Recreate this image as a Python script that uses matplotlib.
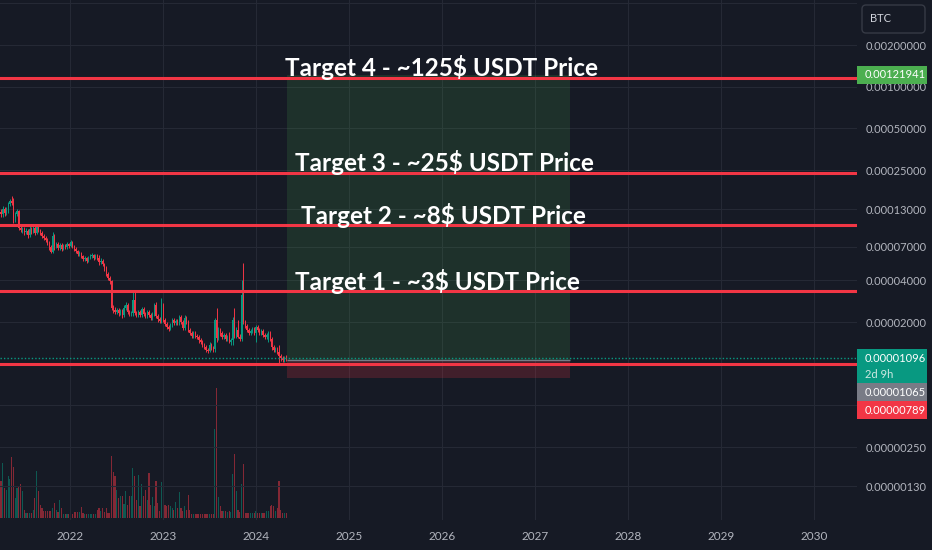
import numpy as np
import pandas as pd
import matplotlib
matplotlib.use('Agg')
import matplotlib.pyplot as plt
import matplotlib.dates as mdates
from matplotlib.patches import Rectangle, FancyBboxPatch
from matplotlib.transforms import IdentityTransform
from matplotlib.ticker import NullLocator

# weekly candles, prices in satoshi (1e-8 BTC)
first_open = 12450
closes = [12050, 13090, 12250, 12870, 14220, 14950, 14460, 11270, 12050, 12660,
          9540, 9230, 9385, 8925, 9075, 8500, 9385, 8925, 9540, 8780,
          9700, 9230, 8780, 8360, 8085, 7820, 7440, 6955, 6400, 8360,
          7075, 7315, 6840, 7190, 6730, 7075, 6955, 7315, 7075, 7565,
          7075, 6730, 6510, 6190, 6295, 5990, 5700, 5795, 5515, 5795,
          5990, 6090, 5795, 5990, 5795, 5425, 5515, 5245, 4910, 4445,
          4155, 3955, 2520, 2440, 2360, 2440, 2320, 2400, 2250, 2520,
          2650, 2360, 2285, 2320, 2880, 2320, 2250, 2360, 2250, 2480,
          2285, 2210, 2360, 2250, 2140, 2285, 2650, 2210, 2105, 2035,
          2650, 2070, 1935, 1840, 1780, 1900, 2070, 1970, 2035, 1970,
          2175, 2000, 1810, 2140, 2000, 1750, 1665, 1585, 1665, 1585,
          1560, 1480, 1435, 1360, 1320, 1255, 1235, 1360, 1295, 1275,
          2070, 1535, 1750, 1665, 1560, 1610, 1505, 1560, 1435, 1480,
          2070, 1585, 1750, 1560, 1505, 3130, 2000, 1870, 1750, 1665,
          1720, 1780, 1665, 1840, 1750, 1665, 1720, 1610, 1560, 1610,
          1665, 1505, 1320, 1255, 1275, 1215, 1135, 1100, 1063, 1100,
          1096]
highs = [13090, 13760, 13530, 13530, 14700, 15450, 16240, 15700, 12450, 13090,
         12870, 9865, 9700, 9700, 9540, 9385, 9865, 9700, 9865, 9865,
         10030, 10030, 9385, 9075, 8635, 8360, 8085, 7690, 7190, 8925,
         8635, 7565, 7565, 7440, 7440, 7315, 7315, 7565, 7440, 7820,
         7690, 7190, 6955, 6620, 6510, 6400, 6090, 5990, 5890, 5990,
         6190, 6295, 6190, 6190, 6190, 6090, 5795, 5700, 5335, 5075,
         4595, 4300, 4020, 2650, 2565, 2520, 2520, 2480, 2480, 2650,
         2780, 2740, 2440, 2400, 3400, 3290, 2400, 2440, 2440, 2565,
         2565, 2360, 2440, 2440, 2320, 2360, 2740, 2780, 2285, 2175,
         2970, 2740, 2140, 2000, 1900, 1970, 2140, 2140, 2105, 2105,
         2250, 2250, 2070, 2250, 2210, 2070, 1810, 1720, 1720, 1720,
         1640, 1610, 1535, 1480, 1410, 1360, 1295, 1435, 1410, 1340,
         2140, 2520, 1840, 1810, 1720, 1665, 1665, 1610, 1695, 1535,
         2175, 2520, 1840, 2070, 1640, 4020, 5335, 2070, 1935, 1810,
         1780, 1840, 1840, 1900, 1900, 1810, 1780, 1780, 1665, 1665,
         1720, 1720, 1560, 1360, 1320, 1320, 1360, 1175, 1135, 1135,
         1155]
lows = [11460, 11460, 11650, 11850, 12250, 13760, 13990, 10370, 10540, 11650,
        9230, 8925, 8780, 8500, 8635, 8085, 8220, 8635, 8780, 8500,
        8635, 8925, 8500, 8085, 7820, 7565, 7190, 6620, 6295, 6295,
        6620, 6840, 6620, 6620, 6510, 6620, 6730, 6730, 6840, 6955,
        6840, 6510, 6295, 5990, 5990, 5795, 5515, 5515, 5335, 5425,
        5700, 5795, 5610, 5700, 5610, 5160, 5245, 5075, 4670, 4300,
        4020, 3760, 2440, 2320, 2285, 2285, 2210, 2250, 2140, 2175,
        2440, 2285, 2210, 2210, 2210, 2250, 2175, 2175, 2175, 2175,
        2210, 2140, 2140, 2175, 2070, 2070, 2210, 2140, 2000, 1970,
        1970, 2000, 1870, 1780, 1720, 1750, 1840, 1900, 1900, 1900,
        1900, 1935, 1750, 1750, 1935, 1695, 1610, 1535, 1535, 1535,
        1505, 1410, 1390, 1320, 1275, 1215, 1195, 1215, 1255, 1215,
        1215, 1435, 1480, 1585, 1505, 1505, 1460, 1460, 1410, 1360,
        1360, 1535, 1535, 1535, 1460, 1460, 1935, 1810, 1695, 1610,
        1610, 1665, 1610, 1435, 1695, 1610, 1610, 1560, 1505, 1505,
        1435, 1460, 1255, 1215, 1215, 1175, 1012, 1045, 1030, 1030,
        1045]
volumes = [37, 55, 30, 28, 42, 39, 61, 51, 20, 30,
           31, 34, 27, 8, 5, 5, 5, 5, 8, 20,
           47, 27, 13, 10, 7, 7, 7, 7, 7, 10,
           15, 8, 6, 18, 10, 4, 4, 4, 4, 4,
           4, 6, 6, 6, 6, 11, 5, 4, 4, 4,
           4, 4, 4, 4, 8, 10, 7, 10, 6, 10,
           5, 5, 62, 46, 42, 28, 20, 22, 22, 14,
           27, 13, 22, 22, 50, 42, 18, 43, 12, 34,
           22, 28, 18, 45, 13, 21, 12, 37, 15, 7,
           36, 7, 13, 12, 13, 12, 10, 8, 16, 10,
           26, 10, 7, 12, 8, 23, 8, 4, 4, 4,
           4, 4, 4, 4, 4, 4, 4, 4, 4, 4,
           89, 130, 21, 12, 7, 7, 7, 6, 7, 6,
           44, 64, 27, 8, 6, 34, 54, 5, 5, 5,
           5, 5, 5, 7, 5, 5, 5, 5, 5, 7,
           7, 12, 13, 12, 7, 10, 37, 8, 5, 5,
           5]

years = [2022, 2023, 2024, 2025, 2026, 2027, 2028, 2029, 2030]
price_ticks = [0.004, 0.002, 0.001, 0.0005, 0.00025, 0.00013, 0.00007, 0.00004,
               0.00002, 0.00001, 0.000005, 0.0000025, 0.0000013]
# tick labels covered by the price tags / symbol box
hidden_ticks = [0.004, 0.00001, 0.000005]

# horizontal levels (sat)
target_levels = [115500, 23800, 10030, 3350]
support_level = 1003
target_texts = ['Target 4 - ~125$ USDT Price', 'Target 3 - ~25$ USDT Price',
                'Target 2 - ~8$ USDT Price', 'Target 1 - ~3$ USDT Price']

# long position tool
take_profit = 121941
entry = 1065
stop = 789
last_price = 1096
box_start = '2024-05-01'
box_end = '2027-05-18'

BG = '#161a25'
GRID = '#252935'
TXT = '#b2b5be'
UP = '#089981'
DOWN = '#f23645'

W, H = 932, 550
fig = plt.figure(figsize=(W / 100, H / 100), dpi=100, facecolor=BG)
rect = [0, 30 / H, 857 / W, 520 / H]
vax = fig.add_axes(rect)
ax = fig.add_axes(rect)
ax.set_facecolor('none')
vax.set_facecolor('none')

dates = pd.date_range('2021-04-05', periods=len(closes), freq='7D')
x = mdates.date2num(dates)
c = np.array(closes) * 1e-8
o = np.array([first_open] + closes[:-1]) * 1e-8
h = np.array(highs) * 1e-8
l = np.array(lows) * 1e-8
up = c >= o
col = np.where(up, UP, DOWN)

x2022 = mdates.date2num(pd.Timestamp('2022-01-01'))
xmin = x2022 - 70 / 93 * 365.25
xmax = x2022 + (857 - 70) / 93 * 365.25

# volume pane
vcol = [(0.03, 0.6, 0.5, 0.5) if u else (0.95, 0.21, 0.27, 0.5) for u in up]
vax.bar(x, volumes, width=4.5, color=vcol, linewidth=0)
vax.set_xlim(xmin, xmax)
vax.set_ylim(-2, 518)
vax.axis('off')

# candles
ax.set_yscale('log')
ax.vlines(x, l, h, colors=col, linewidth=0.7, zorder=3)
bot = np.minimum(o, c)
top = np.maximum(np.maximum(o, c), bot * 1.006)
ax.bar(x, top - bot, bottom=bot, width=4.5, color=col, linewidth=0, zorder=3)

ax.set_xlim(xmin, xmax)
ax.set_ylim(0.002 / 10 ** (475 / 138.5), 0.002 * 10 ** (45 / 138.5))

# position tool
bx0 = mdates.date2num(pd.Timestamp(box_start))
bx1 = mdates.date2num(pd.Timestamp(box_end))
ax.add_patch(Rectangle((bx0, entry * 1e-8), bx1 - bx0, (take_profit - entry) * 1e-8,
                       facecolor='#4caf50', alpha=0.16, linewidth=0, zorder=1))
ax.add_patch(Rectangle((bx0, stop * 1e-8), bx1 - bx0, (entry - stop) * 1e-8,
                       facecolor='#f23645', alpha=0.2, linewidth=0, zorder=1))
ax.hlines(entry * 1e-8, bx0, bx1, color='#787b86', linewidth=1, zorder=2)

ax.axhline(last_price * 1e-8, color=UP, linewidth=1, linestyle=(0, (1, 1.5)), zorder=4)

for lvl in target_levels + [support_level]:
    ax.axhline(lvl * 1e-8, color='#f23645', linewidth=2.2, zorder=6)

text_pos = [(0.5146, 1 - 76 / 520), (0.5187, 1 - 171 / 520),
            (0.5169, 1 - 224 / 520), (0.5099, 1 - 290 / 520)]
for (tx, ty), s in zip(text_pos, target_texts):
    ax.text(tx, ty, s, transform=ax.transAxes, ha='center', va='baseline',
            color='white', fontsize=17.5, fontweight='bold', family='Lato', zorder=8)

# axes styling
ax.grid(True, color=GRID, linewidth=0.8)
ax.set_axisbelow(True)
for sp in ax.spines.values():
    sp.set_visible(False)
ax.yaxis.tick_right()
ax.set_yticks(price_ticks)
ax.set_yticklabels(['' if v in hidden_ticks else '%.8f' % v for v in price_ticks])
ax.yaxis.set_minor_locator(NullLocator())
ax.tick_params(axis='y', length=0, pad=6, labelsize=8, labelcolor=TXT)
ax.set_xticks([mdates.date2num(pd.Timestamp('%d-01-01' % y)) for y in years])
ax.set_xticklabels([str(y) for y in years])
ax.tick_params(axis='x', length=0, pad=8, labelsize=8.5, labelcolor=TXT)
for t in ax.get_xticklabels() + ax.get_yticklabels():
    t.set_family('Lato')


# price tags on the scale
def tag(ytop, height, color, text, sub=None):
    fig.add_artist(Rectangle((857, ytop - height), 70, height, transform=IdentityTransform(),
                             facecolor=color, linewidth=0, zorder=5))
    fig.text(865 / W, (ytop - 9) / H, text, color='white', fontsize=8, family='Lato',
             va='center', ha='left', zorder=6)
    if sub:
        fig.text(865 / W, (ytop - 25) / H, sub, color='#cfe9e3', fontsize=8, family='Lato',
                 va='center', ha='left', zorder=6)


def price_y(p):
    return ax.transData.transform((xmin, p * 1e-8))[1]


tag(price_y(take_profit) + 9, 18, '#4caf50', '%.8f' % (take_profit * 1e-8))
ty = price_y(last_price) + 9
tag(ty, 34, UP, '%.8f' % (last_price * 1e-8), '2d 9h')
tag(ty - 34, 18, '#787b86', '%.8f' % (entry * 1e-8))
tag(ty - 52, 18, '#f23645', '%.8f' % (stop * 1e-8))

fig.add_artist(FancyBboxPatch((862, H - 33), 63, 28, boxstyle='round,pad=0,rounding_size=4',
                              transform=IdentityTransform(), facecolor=BG,
                              edgecolor='#363a45', linewidth=1, zorder=5))
fig.text(870 / W, (H - 19) / H, 'BTC', color='#d1d4dc', fontsize=8, family='Lato',
         va='center', ha='left', zorder=6)

fig.savefig('out.png', dpi=100, facecolor=BG)
